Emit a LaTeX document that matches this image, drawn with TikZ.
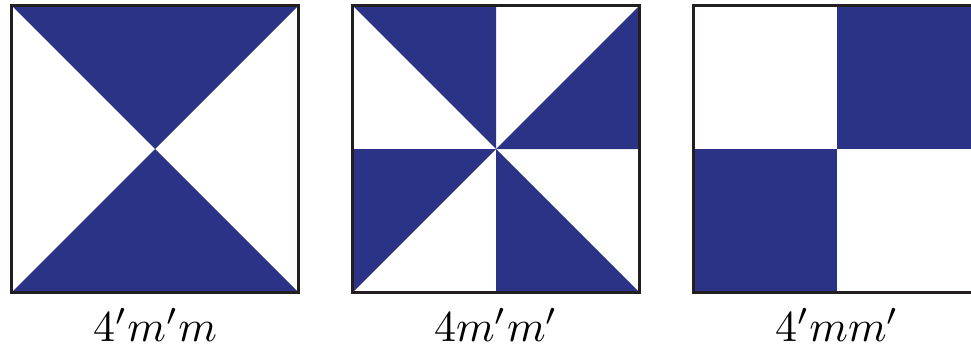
\documentclass[tikz,border=0pt]{standalone}
\usetikzlibrary{positioning}
\definecolor{tileblue}{RGB}{43,51,134}
\definecolor{framegray}{RGB}{35,31,32}

\begin{document}
\begin{tikzpicture}[
    x=1pt, y=-1pt,
    node distance=54pt,
    sq/.style={rectangle, minimum size=287pt, inner sep=0pt, outer sep=0pt},
    shade/.style={fill=tileblue},
    rim/.style={draw=framegray, line width=2.6pt},
    lbl/.style={anchor=base, inner sep=0pt, scale=4.4, transform shape}
]
    \useasboundingbox (0,0) rectangle (971,348);
    \node[sq] (sqA) at (155,149) {};
    \node[sq, right=of sqA] (sqB) {};
    \node[sq, right=of sqB] (sqC) {};
    % 4'm'm
    \fill[shade] (sqA.north west) -- (sqA.north east) -- (sqA.center) -- cycle;
    \fill[shade] (sqA.south west) -- (sqA.south east) -- (sqA.center) -- cycle;
    % 4m'm'
    \fill[shade] (sqB.north west) -- (sqB.north) -- (sqB.center) -- cycle;
    \fill[shade] (sqB.center) -- (sqB.east) -- (sqB.north east) -- cycle;
    \fill[shade] (sqB.west) -- (sqB.center) -- (sqB.south west) -- cycle;
    \fill[shade] (sqB.center) -- (sqB.south) -- (sqB.south east) -- cycle;
    % 4'mm'
    \fill[shade] (sqC.north) rectangle (sqC.east);
    \fill[shade] (sqC.west) rectangle (sqC.south);
    \foreach \tile in {sqA,sqB,sqC}
        \draw[rim] (\tile.north west) rectangle (\tile.south east);
    \node[lbl] (labA) at (sqA.center |- 0,341) {$4'm'm$};
    \node[lbl] (labB) at (sqB.center |- 0,341) {$4m'm'$};
    \node[lbl] (labC) at (sqC.center |- 0,341) {$4'mm'$};
\end{tikzpicture}
\end{document}
